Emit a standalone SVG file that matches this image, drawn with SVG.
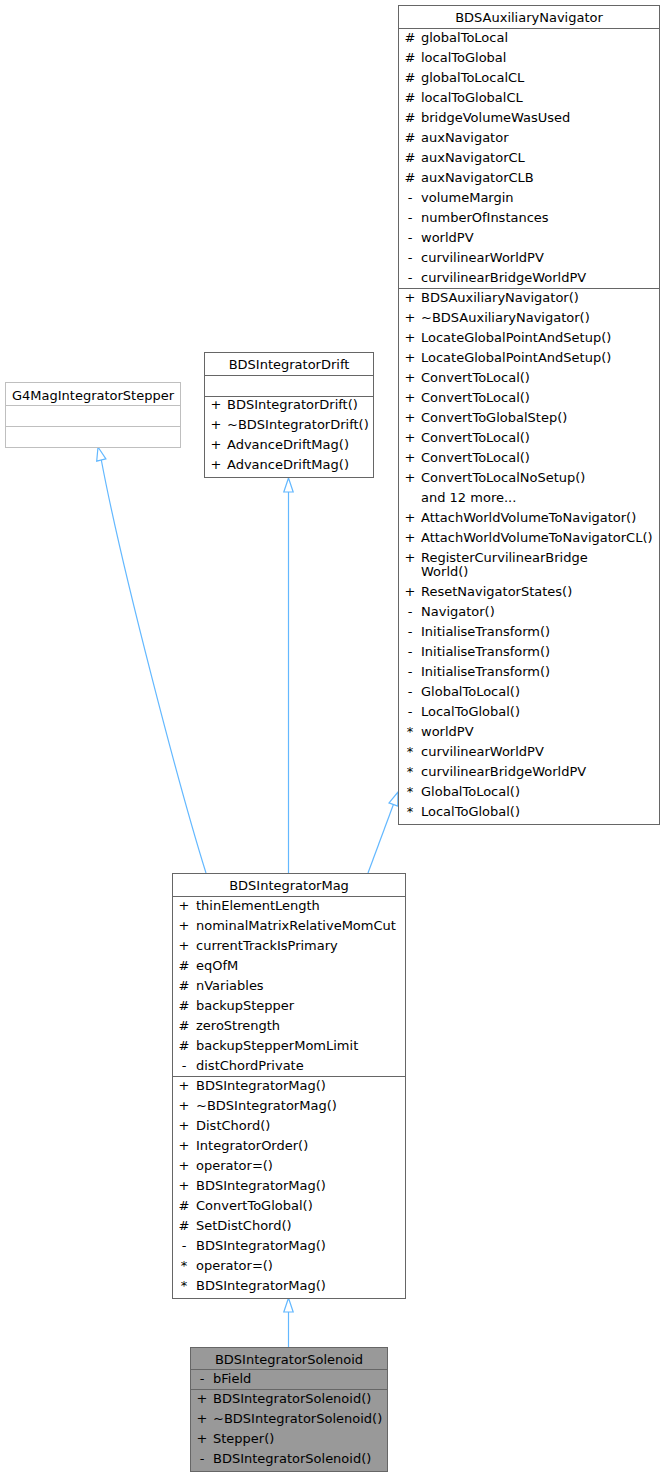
<svg xmlns="http://www.w3.org/2000/svg" width="665" height="1477" viewBox="0 0 665 1477">
<style>
  text { font-family: "DejaVu Sans", "Liberation Sans", sans-serif; font-size: 13px; fill: #000; }
  .t { text-anchor: middle; }
  .s { text-anchor: middle; }
  .box { fill: #ffffff; stroke: #666666; stroke-width: 1; }
  .boxg { fill: #ffffff; stroke: #bfbfbf; stroke-width: 1; }
  .boxc { fill: #999999; stroke: #666666; stroke-width: 1; }
  .sep { stroke: #666666; stroke-width: 1; fill: none; }
  .sepg { stroke: #bfbfbf; stroke-width: 1; fill: none; }
  .edge { stroke: #63b8ff; stroke-width: 1.2; fill: none; }
  .head { stroke: #63b8ff; stroke-width: 1.2; fill: #ffffff; }
</style>

<g id="edges">
  <path class="edge" d="M288.5,1347 L288.5,1312"/>
  <polygon class="head" points="288.5,1298 293.2,1312 283.8,1312"/>
  <path class="edge" d="M288.5,873 L288.5,492"/>
  <polygon class="head" points="288.5,478 293.2,492 283.8,492"/>
  <path class="edge" d="M206,873 C180,790 122,570 101.3,460"/>
  <polygon class="head" points="98,447 105.9,458.8 96.7,461.2"/>
  <path class="edge" d="M368,873 L393.4,804.5"/>
  <polygon class="head" points="398,792 397.8,806.1 389,802.9"/>
</g>

<g id="node-BDSAuxiliaryNavigator">
  <rect class="box" x="398.5" y="5.5" width="261" height="819"/>
  <text class="t" x="529" y="22">BDSAuxiliaryNavigator</text>
  <line class="sep" x1="398.5" y1="28.5" x2="659.5" y2="28.5"/>
  <text class="s" x="410" y="42">#</text><text x="421" y="42">globalToLocal</text>
  <text class="s" x="410" y="62">#</text><text x="421" y="62">localToGlobal</text>
  <text class="s" x="410" y="82">#</text><text x="421" y="82">globalToLocalCL</text>
  <text class="s" x="410" y="102">#</text><text x="421" y="102">localToGlobalCL</text>
  <text class="s" x="410" y="122">#</text><text x="421" y="122">bridgeVolumeWasUsed</text>
  <text class="s" x="410" y="142">#</text><text x="421" y="142">auxNavigator</text>
  <text class="s" x="410" y="162">#</text><text x="421" y="162">auxNavigatorCL</text>
  <text class="s" x="410" y="182">#</text><text x="421" y="182">auxNavigatorCLB</text>
  <text class="s" x="410" y="202">-</text><text x="421" y="202">volumeMargin</text>
  <text class="s" x="410" y="222">-</text><text x="421" y="222">numberOfInstances</text>
  <text class="s" x="410" y="242">-</text><text x="421" y="242">worldPV</text>
  <text class="s" x="410" y="262">-</text><text x="421" y="262">curvilinearWorldPV</text>
  <text class="s" x="410" y="282">-</text><text x="421" y="282">curvilinearBridgeWorldPV</text>
  <line class="sep" x1="398.5" y1="288.5" x2="659.5" y2="288.5"/>
  <text class="s" x="410" y="302">+</text><text x="421" y="302">BDSAuxiliaryNavigator()</text>
  <text class="s" x="410" y="322">+</text><text x="421" y="322">~BDSAuxiliaryNavigator()</text>
  <text class="s" x="410" y="342">+</text><text x="421" y="342">LocateGlobalPointAndSetup()</text>
  <text class="s" x="410" y="362">+</text><text x="421" y="362">LocateGlobalPointAndSetup()</text>
  <text class="s" x="410" y="382">+</text><text x="421" y="382">ConvertToLocal()</text>
  <text class="s" x="410" y="402">+</text><text x="421" y="402">ConvertToLocal()</text>
  <text class="s" x="410" y="422">+</text><text x="421" y="422">ConvertToGlobalStep()</text>
  <text class="s" x="410" y="442">+</text><text x="421" y="442">ConvertToLocal()</text>
  <text class="s" x="410" y="462">+</text><text x="421" y="462">ConvertToLocal()</text>
  <text class="s" x="410" y="482">+</text><text x="421" y="482">ConvertToLocalNoSetup()</text>
  <text x="421" y="502">and 12 more...</text>
  <text class="s" x="410" y="522">+</text><text x="421" y="522">AttachWorldVolumeToNavigator()</text>
  <text class="s" x="410" y="542">+</text><text x="421" y="542">AttachWorldVolumeToNavigatorCL()</text>
  <text class="s" x="410" y="562">+</text><text x="421" y="562">RegisterCurvilinearBridge</text>
  <text x="421" y="576">World()</text>
  <text class="s" x="410" y="596">+</text><text x="421" y="596">ResetNavigatorStates()</text>
  <text class="s" x="410" y="616">-</text><text x="421" y="616">Navigator()</text>
  <text class="s" x="410" y="636">-</text><text x="421" y="636">InitialiseTransform()</text>
  <text class="s" x="410" y="656">-</text><text x="421" y="656">InitialiseTransform()</text>
  <text class="s" x="410" y="676">-</text><text x="421" y="676">InitialiseTransform()</text>
  <text class="s" x="410" y="696">-</text><text x="421" y="696">GlobalToLocal()</text>
  <text class="s" x="410" y="716">-</text><text x="421" y="716">LocalToGlobal()</text>
  <text class="s" x="410" y="736">*</text><text x="421" y="736">worldPV</text>
  <text class="s" x="410" y="756">*</text><text x="421" y="756">curvilinearWorldPV</text>
  <text class="s" x="410" y="776">*</text><text x="421" y="776">curvilinearBridgeWorldPV</text>
  <text class="s" x="410" y="796">*</text><text x="421" y="796">GlobalToLocal()</text>
  <text class="s" x="410" y="816">*</text><text x="421" y="816">LocalToGlobal()</text>
</g>

<g id="node-G4MagIntegratorStepper">
  <rect class="boxg" x="5.5" y="382.5" width="175" height="65"/>
  <text class="t" x="93" y="400">G4MagIntegratorStepper</text>
  <line class="sepg" x1="5.5" y1="405.5" x2="180.5" y2="405.5"/>
  <line class="sepg" x1="5.5" y1="426.5" x2="180.5" y2="426.5"/>
</g>

<g id="node-BDSIntegratorDrift">
  <rect class="box" x="204.5" y="352.5" width="169" height="125"/>
  <text class="t" x="289" y="369">BDSIntegratorDrift</text>
  <line class="sep" x1="204.5" y1="375.5" x2="373.5" y2="375.5"/>
  <line class="sep" x1="204.5" y1="396.5" x2="373.5" y2="396.5"/>
  <text class="s" x="216" y="409">+</text><text x="227" y="409">BDSIntegratorDrift()</text>
  <text class="s" x="216" y="429">+</text><text x="227" y="429">~BDSIntegratorDrift()</text>
  <text class="s" x="216" y="449">+</text><text x="227" y="449">AdvanceDriftMag()</text>
  <text class="s" x="216" y="469">+</text><text x="227" y="469">AdvanceDriftMag()</text>
</g>

<g id="node-BDSIntegratorMag">
  <rect class="box" x="172.5" y="873.5" width="233" height="425"/>
  <text class="t" x="289" y="890">BDSIntegratorMag</text>
  <line class="sep" x1="172.5" y1="896.5" x2="405.5" y2="896.5"/>
  <text class="s" x="184" y="910">+</text><text x="196" y="910">thinElementLength</text>
  <text class="s" x="184" y="930">+</text><text x="196" y="930">nominalMatrixRelativeMomCut</text>
  <text class="s" x="184" y="950">+</text><text x="196" y="950">currentTrackIsPrimary</text>
  <text class="s" x="184" y="970">#</text><text x="196" y="970">eqOfM</text>
  <text class="s" x="184" y="990">#</text><text x="196" y="990">nVariables</text>
  <text class="s" x="184" y="1010">#</text><text x="196" y="1010">backupStepper</text>
  <text class="s" x="184" y="1030">#</text><text x="196" y="1030">zeroStrength</text>
  <text class="s" x="184" y="1050">#</text><text x="196" y="1050">backupStepperMomLimit</text>
  <text class="s" x="184" y="1070">-</text><text x="196" y="1070">distChordPrivate</text>
  <line class="sep" x1="172.5" y1="1076.5" x2="405.5" y2="1076.5"/>
  <text class="s" x="184" y="1090">+</text><text x="196" y="1090">BDSIntegratorMag()</text>
  <text class="s" x="184" y="1110">+</text><text x="196" y="1110">~BDSIntegratorMag()</text>
  <text class="s" x="184" y="1130">+</text><text x="196" y="1130">DistChord()</text>
  <text class="s" x="184" y="1150">+</text><text x="196" y="1150">IntegratorOrder()</text>
  <text class="s" x="184" y="1170">+</text><text x="196" y="1170">operator=()</text>
  <text class="s" x="184" y="1190">+</text><text x="196" y="1190">BDSIntegratorMag()</text>
  <text class="s" x="184" y="1210">#</text><text x="196" y="1210">ConvertToGlobal()</text>
  <text class="s" x="184" y="1230">#</text><text x="196" y="1230">SetDistChord()</text>
  <text class="s" x="184" y="1250">-</text><text x="196" y="1250">BDSIntegratorMag()</text>
  <text class="s" x="184" y="1270">*</text><text x="196" y="1270">operator=()</text>
  <text class="s" x="184" y="1290">*</text><text x="196" y="1290">BDSIntegratorMag()</text>
</g>

<g id="node-BDSIntegratorSolenoid">
  <rect class="boxc" x="190.5" y="1347.5" width="197" height="124"/>
  <text class="t" x="289" y="1364">BDSIntegratorSolenoid</text>
  <line class="sep" x1="190.5" y1="1369.5" x2="387.5" y2="1369.5"/>
  <text class="s" x="202" y="1383">-</text><text x="213" y="1383">bField</text>
  <line class="sep" x1="190.5" y1="1389.5" x2="387.5" y2="1389.5"/>
  <text class="s" x="202" y="1403">+</text><text x="213" y="1403">BDSIntegratorSolenoid()</text>
  <text class="s" x="202" y="1423">+</text><text x="213" y="1423">~BDSIntegratorSolenoid()</text>
  <text class="s" x="202" y="1443">+</text><text x="213" y="1443">Stepper()</text>
  <text class="s" x="202" y="1463">-</text><text x="213" y="1463">BDSIntegratorSolenoid()</text>
</g>
</svg>
